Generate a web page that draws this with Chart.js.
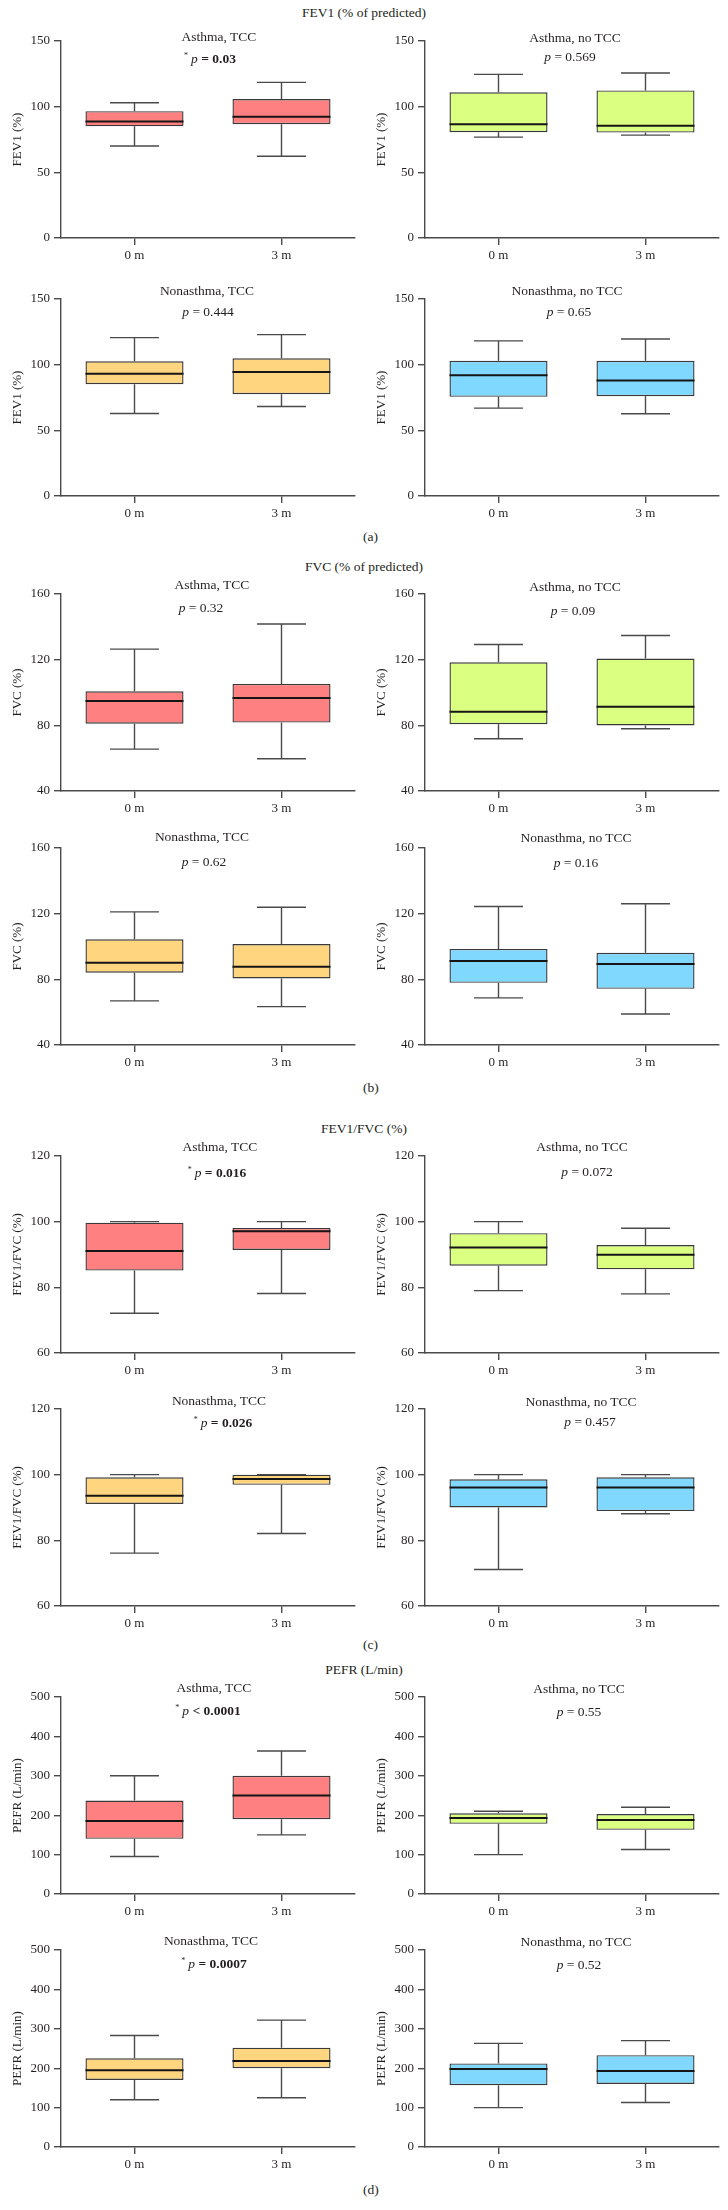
<!DOCTYPE html>
<html>
<head>
<meta charset="utf-8">
<script src="https://cdn.jsdelivr.net/npm/chart.js@4"></script>
<style>
  html, body { margin: 0; padding: 0; background: #fff; }
  #page { position: relative; width: 728px; height: 2210px; overflow: hidden;
          font-family: 'Liberation Serif', serif; color: #231f20; }
  canvas { position: absolute; }
  .lbl { position: absolute; white-space: nowrap; transform: translate(-50%, -50%);
         font-size: 13.5px; line-height: 1; }
  .lbl sup { font-size: 8px; vertical-align: 5px; margin-right: 3px; }
  .tag { position: absolute; font-size: 13.5px; line-height: 1; transform: translateY(-50%); }
</style>
</head>
<body>
<div id="page"></div>
<script>
// x categories
const times = ['0 m', '3 m'];
const groups = ['Asthma, TCC', 'Asthma, no TCC', 'Nonasthma, TCC', 'Nonasthma, no TCC'];

// box summaries per time point: [min, q1, median, q3, max]
const fev1AsthmaTcc   = [[70, 85, 88.7, 96.6, 103], [62.3, 86.7, 92.3, 105.8, 118.5]];
const fev1AsthmaNoTcc = [[76.8, 80.6, 86.7, 110.9, 124.6], [78.3, 80.3, 85.4, 112.4, 125.6]];
const fev1NonTcc      = [[62.8, 85.1, 93, 102.6, 120.6], [68.1, 77.5, 94.5, 104.9, 122.9]];
const fev1NonNoTcc    = [[66.9, 75.5, 92, 102.9, 118.1], [62.6, 76, 87.9, 102.9, 119.6]];

const fvcAsthmaTcc    = [[65.5, 81, 94.8, 100.7, 126.4], [59.6, 81.7, 96.6, 105.2, 141.7]];
const fvcAsthmaNoTcc  = [[71.8, 80.7, 88.3, 118.4, 129.2], [77.9, 79.9, 91.3, 120.7, 134.7]];
const fvcNonTcc       = [[66.9, 84, 90.1, 104.4, 121.1], [63.4, 80.5, 87.7, 101.5, 123.9]];
const fvcNonNoTcc     = [[68.7, 77.9, 91.1, 98.5, 124.4], [58.9, 74.2, 89.3, 96.2, 126]];

const ratioAsthmaTcc   = [[72.1, 85.1, 91.1, 99.7, 100], [78.1, 91.4, 97.1, 98.1, 100]];
const ratioAsthmaNoTcc = [[79, 86.6, 92.1, 96.5, 100], [78, 85.5, 89.9, 92.9, 98]];
const ratioNonTcc      = [[76.1, 91.1, 93.6, 99.2, 100], [82.1, 96.9, 98.7, 100, 100]];
const ratioNonNoTcc    = [[71.1, 90, 96.1, 98.6, 100], [88.1, 88.9, 96.1, 99.2, 100]];

const pefrAsthmaTcc   = [[95, 140, 185, 237, 300], [150, 190, 250, 300, 363]];
const pefrAsthmaNoTcc = [[100, 178, 193, 205, 210], [113, 163, 188, 203, 220]];
const pefrNonTcc      = [[120, 170, 195, 225, 283], [125, 200, 218, 252, 322]];
const pefrNonNoTcc    = [[100, 157, 198, 212, 263], [113, 160, 193, 233, 270]];

// p values: [operator, value, significant]
const fev1P  = [['=', '0.03', true], ['=', '0.569', false], ['=', '0.444', false], ['=', '0.65', false]];
const fvcP   = [['=', '0.32', false], ['=', '0.09', false], ['=', '0.62', false], ['=', '0.16', false]];
const ratioP = [['=', '0.016', true], ['=', '0.072', false], ['=', '0.026', true], ['=', '0.457', false]];
const pefrP  = [['<', '0.0001', true], ['=', '0.55', false], ['=', '0.0007', true], ['=', '0.52', false]];

const fills = ['#ff8080', '#dbff80', '#ffd580', '#80d8ff'];
const TXT = '#231f20', AX = '#4a4a4a', EDGE = '#3a3a3a';
const FONT = { family: "'Liberation Serif', serif", size: 13 };

const sections = [
  { title: 'FEV1 (% of predicted)', tag: '(a)', yTitle: 'FEV1 (%)', min: 0, max: 150, step: 50,
    titleY: 13, tagY: 537, rows: [41, 299],
    boxes: [fev1AsthmaTcc, fev1AsthmaNoTcc, fev1NonTcc, fev1NonNoTcc], p: fev1P,
    text: [[219, -4, 210, 18], [211, -3, 206, 16], [207, -8, 208, 13], [203, -8, 205, 13]] },
  { title: 'FVC (% of predicted)', tag: '(b)', yTitle: 'FVC (%)', min: 40, max: 160, step: 40,
    titleY: 567, tagY: 1088, rows: [594, 848],
    boxes: [fvcAsthmaTcc, fvcAsthmaNoTcc, fvcNonTcc, fvcNonNoTcc], p: fvcP,
    text: [[212, -9, 201, 14], [211, -7, 209, 17], [202, -11, 204, 14], [212, -10, 212, 15]] },
  { title: 'FEV1/FVC (%)', tag: '(c)', yTitle: 'FEV1/FVC (%)', min: 60, max: 120, step: 20,
    titleY: 1129, tagY: 1645, rows: [1156, 1409],
    boxes: [ratioAsthmaTcc, ratioAsthmaNoTcc, ratioNonTcc, ratioNonNoTcc], p: ratioP,
    text: [[220, -9, 217, 17], [218, -9, 223, 16], [219, -8, 223, 14], [217, -7, 226, 13]] },
  { title: 'PEFR (L/min)', tag: '(d)', yTitle: 'PEFR (L/min)', min: 0, max: 500, step: 100,
    titleY: 1670, tagY: 2190, rows: [1697, 1950],
    boxes: [pefrAsthmaTcc, pefrAsthmaNoTcc, pefrNonTcc, pefrNonNoTcc], p: pefrP,
    text: [[214, -9, 208, 14], [215, -8, 215, 15], [211, -9, 214, 14], [212, -8, 215, 15]] }
];

const PLOT_H = 197, PAD_T = 14, X_H = 30, Y_W = 61, COL_W = 364;

// whiskers + medians drawn from the y scale of each chart
function drawParts(chart, part) {
  const ds = chart.data.datasets[0];
  const meta = chart.getDatasetMeta(0);
  const y = chart.scales.y;
  const ctx = chart.ctx;
  ctx.save();
  meta.data.forEach((bar, i) => {
    const [mn, q1, md, q3, mx] = ds.stats[i];
    const x = bar.x, hw = bar.width / 2;
    ctx.beginPath();
    if (part === 'whisk') {
      ctx.strokeStyle = AX;
      ctx.lineWidth = 1.4;
      ctx.moveTo(x, y.getPixelForValue(q3)); ctx.lineTo(x, y.getPixelForValue(mx));
      ctx.moveTo(x - hw / 2, y.getPixelForValue(mx)); ctx.lineTo(x + hw / 2, y.getPixelForValue(mx));
      ctx.moveTo(x, y.getPixelForValue(q1)); ctx.lineTo(x, y.getPixelForValue(mn));
      ctx.moveTo(x - hw / 2, y.getPixelForValue(mn)); ctx.lineTo(x + hw / 2, y.getPixelForValue(mn));
    } else {
      ctx.strokeStyle = '#151515';
      ctx.lineWidth = 2;
      ctx.moveTo(x - hw, y.getPixelForValue(md)); ctx.lineTo(x + hw, y.getPixelForValue(md));
    }
    ctx.stroke();
  });
  ctx.restore();
}

const boxPlugin = {
  id: 'boxWhiskers',
  beforeDatasetsDraw(chart) { drawParts(chart, 'whisk'); },
  afterDatasetsDraw(chart) { drawParts(chart, 'median'); }
};

const page = document.getElementById('page');

function addLabel(html, x, y, cls) {
  const d = document.createElement('div');
  d.className = cls || 'lbl';
  d.innerHTML = html;
  d.style.left = x + 'px';
  d.style.top = y + 'px';
  page.appendChild(d);
}

function pText(p) {
  const [op, val, sig] = p;
  if (sig) return '<sup>*</sup><i>p</i> <b>' + op + ' ' + val + '</b>';
  return '<i>p</i> ' + op + ' ' + val;
}

function makePanel(sec, k) {
  const col = k % 2, row = Math.floor(k / 2);
  const left = col * COL_W, top = sec.rows[row];
  const stats = sec.boxes[k];

  const c = document.createElement('canvas');
  c.width = COL_W;
  c.height = PAD_T + PLOT_H + X_H;
  c.style.left = left + 'px';
  c.style.top = (top - PAD_T) + 'px';
  page.appendChild(c);

  new Chart(c, {
    type: 'bar',
    data: {
      labels: times,
      datasets: [{
        data: stats.map(s => [s[1], s[3]]),
        stats: stats,
        backgroundColor: fills[k],
        borderColor: EDGE,
        borderWidth: 1.4,
        borderSkipped: false,
        barPercentage: 0.667,
        categoryPercentage: 1
      }]
    },
    options: {
      responsive: false,
      animation: false,
      devicePixelRatio: 1,
      layout: { padding: { top: PAD_T, right: 9, left: 0, bottom: 0 } },
      plugins: { legend: { display: false }, tooltip: { enabled: false } },
      scales: {
        x: {
          grid: { drawOnChartArea: false, offset: false, tickLength: 7, color: AX, lineWidth: 1.4 },
          border: { color: AX, width: 1.4 },
          ticks: { font: FONT, color: TXT, padding: 3 },
          afterFit(s) { s.height = X_H; }
        },
        y: {
          min: sec.min, max: sec.max,
          ticks: { stepSize: sec.step, font: FONT, color: TXT, padding: 4 },
          grid: { drawOnChartArea: false, tickLength: 7, color: AX, lineWidth: 1.4 },
          border: { color: AX, width: 1.4 },
          title: { display: true, text: sec.yTitle, font: FONT, color: TXT, padding: { top: 10, bottom: 0 } },
          afterFit(s) { s.width = Y_W; }
        }
      }
    },
    plugins: [boxPlugin]
  });

  const t = sec.text[k];
  addLabel(groups[k], left + t[0], top + t[1]);
  addLabel(pText(sec.p[k]), left + t[2], top + t[3]);
}

sections.forEach(sec => {
  addLabel(sec.title, 364, sec.titleY);
  addLabel(sec.tag, 363, sec.tagY, 'tag');
  for (let k = 0; k < 4; k++) makePanel(sec, k);
});
</script>
</body>
</html>
